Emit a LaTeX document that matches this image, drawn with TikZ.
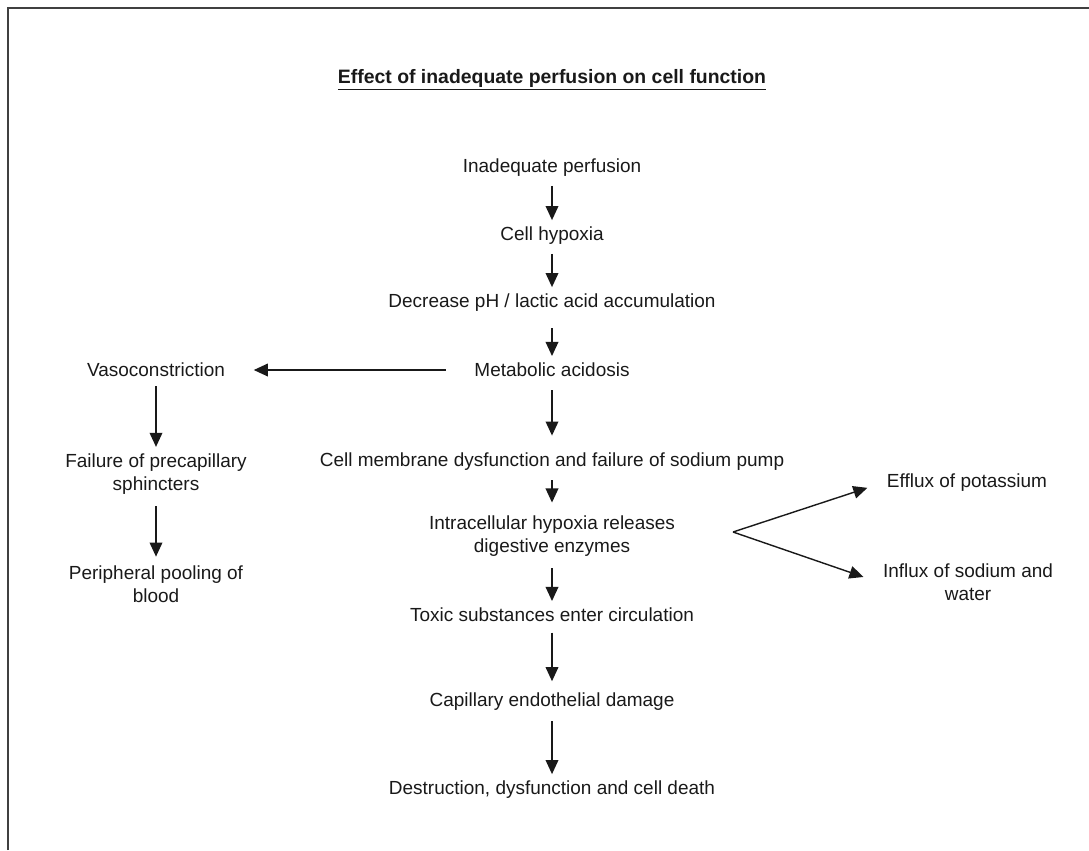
\documentclass[tikz,border=0pt]{standalone}
\usepackage{fontspec}
\setmainfont{Liberation Sans}
\usetikzlibrary{positioning, arrows.meta}

\begin{document}
\begin{tikzpicture}[x=0.025cm, y=-0.025cm,
        txt/.style={inner sep=0pt, outer sep=3.5pt, align=center, text=black!90,
                    font=\fontsize{13.5pt}{16pt}\selectfont},
        arr/.style={-{Triangle[length=10pt, width=9pt]}, line width=1pt, black!90,
                    shorten <=3pt, shorten >=1.5pt}]
        \useasboundingbox (0,0) rectangle (1089,850);

                % Draw the page frame (only top and left edges show)
                \draw[black!75, line width=2pt] (8,850) -- (8,8) -- (1089,8);

                % Draw the title
                \node[txt, font=\fontsize{13.8pt}{16pt}\selectfont\bfseries] (title) at (552,80) {\underline{Effect of inadequate perfusion on cell function}};

                % Draw the main chain
                \node[txt] (m1) at (552,168) {Inadequate perfusion};
                \node[txt] (m2) at (552,236) {Cell hypoxia};
                \node[txt] (m3) at (552,303) {Decrease pH / lactic acid accumulation};
                \node[txt] (m4) at (552,370) {Metabolic acidosis};
                \node[txt] (m5) at (552,462) {Cell membrane dysfunction and failure of sodium pump};
                \node[txt] (m6) at (552,536) {Intracellular hypoxia releases\\digestive enzymes};
                \node[txt] (m7) at (552,615) {Toxic substances enter circulation};
                \node[txt] (m8) at (552,702) {Capillary endothelial damage};
                \node[txt] (m9) at (552,790) {Destruction, dysfunction and cell death};

                % Draw the left branch
                \node[txt] (l1) at (156,370) {Vasoconstriction};
                \node[txt] (l2) at (156,474) {Failure of precapillary\\sphincters};
                \node[txt] (l3) at (156,584) {Peripheral pooling of\\blood};

                % Draw the right branch
                \node[txt] (r1) at (967,483) {Efflux of potassium};
                \node[txt] (r2) at (968,582) {Influx of sodium and\\water};
                \coordinate (fork) at (733,532);

                % Draw arrows down the main chain
                \draw[arr] (m1) -- (m2);
                \draw[arr] (m2) -- (m3);
                \draw[arr, shorten <=8pt] (m3) -- (m4);
                \draw[arr, shorten <=6pt, shorten >=9pt] (m4) -- (m5);
                \draw[arr, shorten >=6pt] (m5) -- (m6);
                \draw[arr, shorten <=5pt] (m6) -- (m7);
                \draw[arr, shorten <=4pt, shorten >=5pt] (m7) -- (m8);
                \draw[arr, shorten <=4pt] (m8) -- (m9);

                % Draw arrows of the left branch
                \draw[arr, shorten <=17pt, shorten >=17pt] (m4) -- (l1);
                \draw[arr] (l1) -- (l2);
                \draw[arr, shorten <=5pt, shorten >=3pt] (l2) -- (l3);

                % Draw arrows of the right branch
                \draw[arr, shorten <=0pt, shorten >=11pt] (fork) -- (r1.west);
                \draw[arr, shorten <=0pt, shorten >=11pt] (fork) -- (r2.west);
\end{tikzpicture}
\end{document}
